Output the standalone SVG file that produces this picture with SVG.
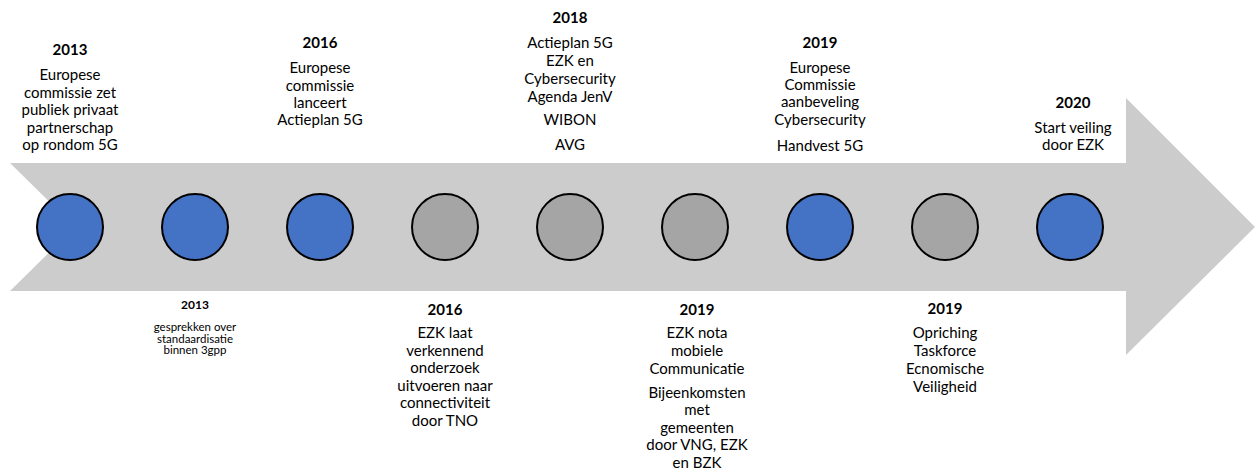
<svg xmlns="http://www.w3.org/2000/svg" width="1255" height="470" viewBox="0 0 1255 470">
<style>
text{font-family:Lato,"Liberation Sans",sans-serif;font-size:15px;fill:#000;text-anchor:middle}
.y{font-weight:bold}
.s{font-size:11.5px}
.blue{fill:#4472C4;stroke:#000;stroke-width:2}
.gray{fill:#A5A5A5;stroke:#000;stroke-width:2}
</style>
<g id="connectors">
<polygon points="10,163 1126,163 1126,98 1255,227 1126,355 1126,291 10,291 75,227" fill="#CCCCCC"/>
</g>
<g id="n1">
<circle class="blue" cx="70" cy="227" r="33"/>
<text class="y" x="70" y="55">2013</text>
<text x="70" y="80">Europese</text>
<text x="70" y="97.5">commissie zet</text>
<text x="70" y="115">publiek privaat</text>
<text x="70" y="132.5">partnerschap</text>
<text x="70" y="150">op rondom 5G</text>
</g>
<g id="n2">
<circle class="blue" cx="195" cy="227" r="33"/>
<text class="y" x="195" y="309" style="font-size:12px">2013</text>
<text class="s" x="195" y="331">gesprekken over</text>
<text class="s" x="195" y="342.5">standaardisatie</text>
<text class="s" x="195" y="354">binnen 3gpp</text>
</g>
<g id="n3">
<circle class="blue" cx="320" cy="227" r="33"/>
<text class="y" x="320" y="48">2016</text>
<text x="320" y="73">Europese</text>
<text x="320" y="90.5">commissie</text>
<text x="320" y="108">lanceert</text>
<text x="320" y="125">Actieplan 5G</text>
</g>
<g id="n4">
<circle class="gray" cx="445" cy="227" r="33"/>
<text class="y" x="445" y="315">2016</text>
<text x="445" y="338">EZK laat</text>
<text x="445" y="355.5">verkennend</text>
<text x="445" y="373">onderzoek</text>
<text x="445" y="390.5">uitvoeren naar</text>
<text x="445" y="408">connectiviteit</text>
<text x="445" y="425.5">door TNO</text>
</g>
<g id="n5">
<circle class="gray" cx="570" cy="227" r="33"/>
<text class="y" x="570" y="23">2018</text>
<text x="570" y="48">Actieplan 5G</text>
<text x="570" y="66">EZK en</text>
<text x="570" y="84">Cybersecurity</text>
<text x="570" y="101.5">Agenda JenV</text>
<text x="570" y="125">WIBON</text>
<text x="570" y="150">AVG</text>
</g>
<g id="n6">
<circle class="gray" cx="695" cy="227" r="33"/>
<text class="y" x="697" y="315">2019</text>
<text x="697" y="338">EZK nota</text>
<text x="697" y="355.5">mobiele</text>
<text x="697" y="374">Communicatie</text>
<text x="697" y="398">Bijeenkomsten</text>
<text x="697" y="415">met</text>
<text x="697" y="432.5">gemeenten</text>
<text x="697" y="450">door VNG, EZK</text>
<text x="697" y="467.5">en BZK</text>
</g>
<g id="n7">
<circle class="blue" cx="820" cy="227" r="33"/>
<text class="y" x="820" y="48">2019</text>
<text x="820" y="73">Europese</text>
<text x="820" y="90">Commissie</text>
<text x="820" y="107">aanbeveling</text>
<text x="820" y="125">Cybersecurity</text>
<text x="820" y="151">Handvest 5G</text>
</g>
<g id="n8">
<circle class="gray" cx="945" cy="227" r="33"/>
<text class="y" x="945" y="314">2019</text>
<text x="945" y="338">Opriching</text>
<text x="945" y="356">Taskforce</text>
<text x="945" y="374">Ecnomische</text>
<text x="945" y="392">Veiligheid</text>
</g>
<g id="n9">
<circle class="blue" cx="1070" cy="227" r="33"/>
<text class="y" x="1073" y="108">2020</text>
<text x="1073" y="133">Start veiling</text>
<text x="1073" y="150">door EZK</text>
</g>
</svg>
